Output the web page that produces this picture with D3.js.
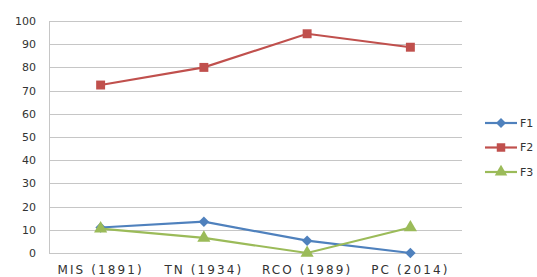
<!DOCTYPE html>
<html>
<head>
<meta charset="utf-8">
<script src="https://cdn.jsdelivr.net/npm/d3@7"></script>
<style>
  body { margin: 0; background: #fff; }
  text { font-family: "DejaVu Sans", Verdana, sans-serif; fill: #333; }
</style>
</head>
<body>
<div id="chart"></div>
<script>
let categories = ['MIS (1891)', 'TN (1934)', 'RCO (1989)', 'PC (2014)'];
let seriesNames = ['F1', 'F2', 'F3'];
let f1 = [11, 13.5, 5.3, 0];
let f2 = [72.4, 80, 94.5, 88.7];
let f3 = [10.5, 6.5, 0, 11];
let yTicks = [0, 10, 20, 30, 40, 50, 60, 70, 80, 90, 100];

let colors = { F1: '#4f81bd', F2: '#c0504d', F3: '#9bbb59' };
let symbols = { F1: d3.symbolSquare, F2: d3.symbolSquare, F3: d3.symbolTriangle };
let symRot = { F1: 45, F2: 0, F3: 0 };
let symSize = { F1: 55, F2: 80, F3: 75 };

let width = 537, height = 277;
let margin = {left: 49, right: 75, top: 21, bottom: 24};

let svg = d3.select('#chart').append('svg')
    .attr('width', width).attr('height', height);

let x = d3.scaleBand()
    .domain(categories)
    .range([margin.left, width - margin.right]);

let y = d3.scaleLinear()
    .domain([0, 100])
    .range([height - margin.bottom, margin.top]);

// gridlines
svg.append('g')
    .selectAll('line')
    .data(yTicks)
    .enter().append('line')
    .attr('x1', margin.left).attr('x2', width - margin.right)
    .attr('y1', d => Math.round(y(d)) + 0.5).attr('y2', d => Math.round(y(d)) + 0.5)
    .attr('stroke', '#c6c6c6').attr('stroke-width', 1);

svg.append('line')
    .attr('x1', margin.left + 0.5).attr('x2', margin.left + 0.5)
    .attr('y1', y(100)).attr('y2', y(0))
    .attr('stroke', '#c6c6c6');

// y labels
let yAxis = svg.append('g')
    .attr('transform', `translate(${margin.left - 13},0)`)
    .call(d3.axisLeft(y).tickValues(yTicks).tickSize(0).tickPadding(0));
yAxis.select('.domain').remove();
yAxis.selectAll('text')
    .style('font-size', '11px')
    .style('font-family', '"DejaVu Sans", Verdana, sans-serif')
    .attr('fill', '#333');

// x labels
let xAxis = svg.append('g')
    .attr('transform', `translate(0,${height - margin.bottom})`)
    .call(d3.axisBottom(x).tickSize(0).tickPadding(12));
xAxis.select('.domain').remove();
xAxis.selectAll('text')
    .style('font-size', '12px')
    .style('letter-spacing', '2.1px')
    .style('font-family', '"DejaVu Sans", Verdana, sans-serif')
    .attr('fill', '#333');

let data = { F1: f1, F2: f2, F3: f3 };

let line = d3.line()
    .x((d, i) => x(categories[i]) + x.bandwidth() / 2)
    .y(d => y(d));

seriesNames.forEach(name => {
    let g = svg.append('g');
    g.append('path')
        .datum(data[name])
        .attr('d', line)
        .attr('fill', 'none')
        .attr('stroke', colors[name])
        .attr('stroke-width', 2.2);
    g.selectAll('path.pt')
        .data(data[name])
        .enter().append('path')
        .attr('class', 'pt')
        .attr('d', d3.symbol().type(symbols[name]).size(symSize[name]))
        .attr('transform', (d, i) => `translate(${x(categories[i]) + x.bandwidth() / 2},${y(d)}) rotate(${symRot[name]})`)
        .attr('fill', colors[name]);
});

// legend
let legend = svg.append('g')
    .attr('transform', 'translate(485,123)');
let items = legend.selectAll('g')
    .data(seriesNames)
    .enter().append('g')
    .attr('transform', (d, i) => `translate(0,${i * 24.5})`);
items.append('line')
    .attr('x1', 0).attr('x2', 32)
    .attr('stroke', d => colors[d]).attr('stroke-width', 2.2);
items.append('path')
    .attr('d', d => d3.symbol().type(symbols[d]).size(symSize[d] * 0.9)())
    .attr('transform', d => `translate(16,0) rotate(${symRot[d]})`)
    .attr('fill', d => colors[d]);
items.append('text')
    .attr('x', 35).attr('dy', '0.35em')
    .style('font-size', '11px')
    .text(d => d);
</script>
</body>
</html>
